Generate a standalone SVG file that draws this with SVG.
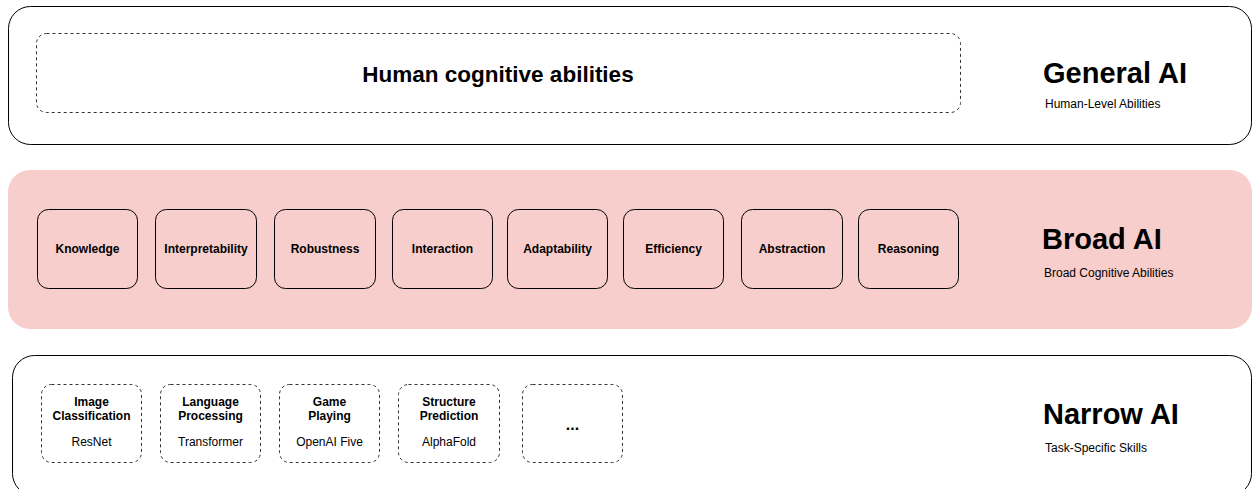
<svg xmlns="http://www.w3.org/2000/svg" width="1252" height="489" viewBox="0 0 1252 489">
<style>
text{font-family:"Liberation Sans",Arial,sans-serif;fill:#000}
.band{fill:#fff;stroke:#000;stroke-width:1}
.broad{fill:#f8cecc;stroke:none}
.dash{fill:none;stroke:#333;stroke-width:1;stroke-dasharray:3 3}
.box{fill:none;stroke:#000;stroke-width:1}
.big{font-size:29px;font-weight:bold}
.sub{font-size:12px}
.lbl{font-size:12px;font-weight:bold;text-anchor:middle}
.ex{font-size:12px;text-anchor:middle}
</style>
<g id="general">
<rect class="band" x="8.5" y="6.5" width="1243" height="138" rx="22"/>
<rect class="dash" x="36.5" y="33.5" width="924" height="79" rx="10"/>
<text x="498" y="82" style="font-size:22.5px;font-weight:bold;text-anchor:middle">Human cognitive abilities</text>
<text class="big" x="1043" y="83">General AI</text>
<text class="sub" x="1045" y="108">Human-Level Abilities</text>
</g>
<g id="broad">
<rect class="broad" x="8" y="170" width="1244" height="159" rx="22"/>
<text class="big" x="1042" y="249">Broad AI</text>
<text class="sub" x="1044" y="277">Broad Cognitive Abilities</text>
</g>
<g id="knowledge"><rect class="box" x="37.5" y="209.5" width="100" height="79" rx="11"/><text class="lbl" x="87.5" y="253">Knowledge</text></g>
<g id="interpretability"><rect class="box" x="155.5" y="209.5" width="101" height="79" rx="11"/><text class="lbl" x="206" y="253">Interpretability</text></g>
<g id="robustness"><rect class="box" x="274.5" y="209.5" width="101" height="79" rx="11"/><text class="lbl" x="325" y="253">Robustness</text></g>
<g id="interaction"><rect class="box" x="392.5" y="209.5" width="100" height="79" rx="11"/><text class="lbl" x="442.5" y="253">Interaction</text></g>
<g id="adaptability"><rect class="box" x="507.5" y="209.5" width="100" height="79" rx="11"/><text class="lbl" x="557.5" y="253">Adaptability</text></g>
<g id="efficiency"><rect class="box" x="623.5" y="209.5" width="100" height="79" rx="11"/><text class="lbl" x="673.5" y="253">Efficiency</text></g>
<g id="abstraction"><rect class="box" x="741.5" y="209.5" width="101" height="79" rx="11"/><text class="lbl" x="792" y="253">Abstraction</text></g>
<g id="reasoning"><rect class="box" x="858.5" y="209.5" width="100" height="79" rx="11"/><text class="lbl" x="908.5" y="253">Reasoning</text></g>
<g id="narrow">
<rect class="band" x="12.5" y="355.5" width="1239" height="140" rx="22"/>
<text class="big" x="1043" y="424">Narrow AI</text>
<text class="sub" x="1045" y="452">Task-Specific Skills</text>
</g>
<g id="image"><rect class="dash" x="41.5" y="384.5" width="100" height="78" rx="10"/><text class="lbl" x="91.5" y="406">Image</text><text class="lbl" x="91.5" y="420">Classification</text><text class="ex" x="91.5" y="446">ResNet</text></g>
<g id="language"><rect class="dash" x="160.5" y="384.5" width="100" height="78" rx="10"/><text class="lbl" x="210.5" y="406">Language</text><text class="lbl" x="210.5" y="420">Processing</text><text class="ex" x="210.5" y="446">Transformer</text></g>
<g id="game"><rect class="dash" x="279.5" y="384.5" width="100" height="78" rx="10"/><text class="lbl" x="329.5" y="406">Game</text><text class="lbl" x="329.5" y="420">Playing</text><text class="ex" x="329.5" y="446">OpenAI Five</text></g>
<g id="structure"><rect class="dash" x="398.5" y="384.5" width="101" height="78" rx="10"/><text class="lbl" x="449" y="406">Structure</text><text class="lbl" x="449" y="420">Prediction</text><text class="ex" x="449" y="446">AlphaFold</text></g>
<g id="more"><rect class="dash" x="522.5" y="384.5" width="100" height="78" rx="10"/><text x="572.5" y="430" style="font-size:16px;font-weight:bold;text-anchor:middle">...</text></g>
<g id="connectors"></g>
</svg>
